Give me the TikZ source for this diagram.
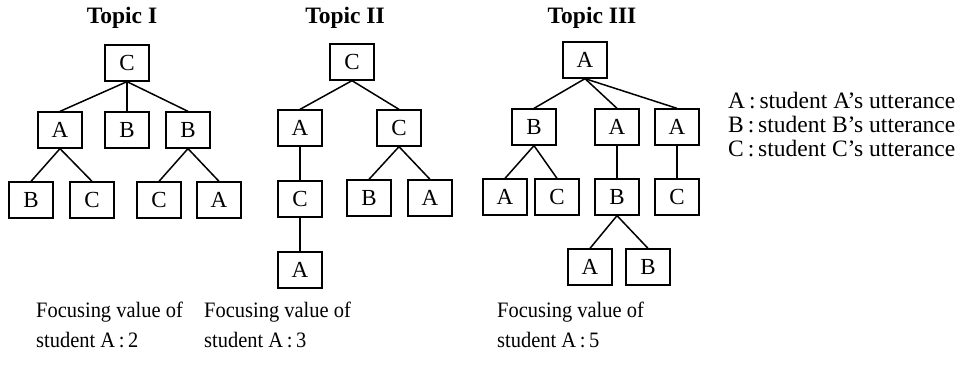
\documentclass[tikz,border=0pt]{standalone}
\usepackage{fontspec}
\setmainfont{Liberation Serif}
\newfontfamily\condfont[FakeStretch=0.93]{Liberation Serif}
\begin{document}
\begin{tikzpicture}[x=1pt,y=-1pt,
  ubox/.style={draw,line width=1.3pt,minimum width=44pt,minimum height=36pt,inner sep=0pt,font=\fontsize{23}{26}\selectfont},
  ttl/.style={font=\fontsize{23.5}{26}\selectfont\bfseries},
  txt/.style={font=\condfont\fontsize{22}{30}\selectfont,align=left,inner sep=0pt},
  lgd/.style={font=\fontsize{23.5}{24}\selectfont,inner sep=0pt,anchor=west},
  edge/.style={line width=1.5pt}]
\useasboundingbox (0,0) rectangle (973,369);
% Topic I
\node[ttl] (t1) at (122,18) {Topic I};
\node[ubox] (i0) at (127,63) {C};
\node[ubox] (i1) at (60,130) {A};
\node[ubox] (i2) at (127,130) {B};
\node[ubox] (i3) at (188,130) {B};
\node[ubox] (i4) at (31,200) {B};
\node[ubox] (i5) at (92,200) {C};
\node[ubox] (i6) at (159,200) {C};
\node[ubox] (i7) at (219,200) {A};
\draw[edge] (i0.south) -- (i1.north);
\draw[edge] (i0.south) -- (i2.north);
\draw[edge] (i0.south) -- (i3.north);
\draw[edge] (i1.south) -- (i4.north);
\draw[edge] (i1.south) -- (i5.north);
\draw[edge] (i3.south) -- (i6.north);
\draw[edge] (i3.south) -- (i7.north);
% Topic II
\node[ttl] (t2) at (345,18) {Topic II};
\node[ubox] (j0) at (352,62) {C};
\node[ubox] (j1) at (300,128) {A};
\node[ubox] (j2) at (399,128) {C};
\node[ubox] (j3) at (300,199) {C};
\node[ubox] (j4) at (369,198) {B};
\node[ubox] (j5) at (430,198) {A};
\node[ubox] (j6) at (300,270) {A};
\draw[edge] (j0.south) -- (j1.north);
\draw[edge] (j0.south) -- (j2.north);
\draw[edge] (j1.south) -- (j3.north);
\draw[edge] (j3.south) -- (j6.north);
\draw[edge] (j2.south) -- (j4.north);
\draw[edge] (j2.south) -- (j5.north);
% Topic III
\node[ttl] (t3) at (592,18) {Topic III};
\node[ubox] (k0) at (585,60) {A};
\node[ubox] (k1) at (534,127) {B};
\node[ubox] (k2) at (617,127) {A};
\node[ubox] (k3) at (677,127) {A};
\node[ubox] (k4) at (505,197) {A};
\node[ubox] (k5) at (557,197) {C};
\node[ubox] (k6) at (617,197) {B};
\node[ubox] (k7) at (677,197) {C};
\node[ubox] (k8) at (590,267) {A};
\node[ubox] (k9) at (648,267) {B};
\draw[edge] (k0.south) -- (k1.north);
\draw[edge] (k0.south) -- (k2.north);
\draw[edge] (k0.south) -- (k3.north);
\draw[edge] (k1.south) -- (k4.north);
\draw[edge] (k1.south) -- (k5.north);
\draw[edge] (k2.south) -- (k6.north);
\draw[edge] (k3.south) -- (k7.north);
\draw[edge] (k6.south) -- (k8.north);
\draw[edge] (k6.south) -- (k9.north);
% Legend
\node[lgd] (la) at (728,101) {A\,:\,student A’s utterance};
\node[lgd] (lb) at (728,125) {B\,:\,student B’s utterance};
\node[lgd] (lc) at (728,149) {C\,:\,student C’s utterance};
% Bottom texts
\node[txt,anchor=north west] (f1) at (36,302) {Focusing value of\\student A\,:\,2};
\node[txt,anchor=north west] (f2) at (204,302) {Focusing value of\\student A\,:\,3};
\node[txt,anchor=north west] (f3) at (497,302) {Focusing value of\\student A\,:\,5};
\end{tikzpicture}
\end{document}
